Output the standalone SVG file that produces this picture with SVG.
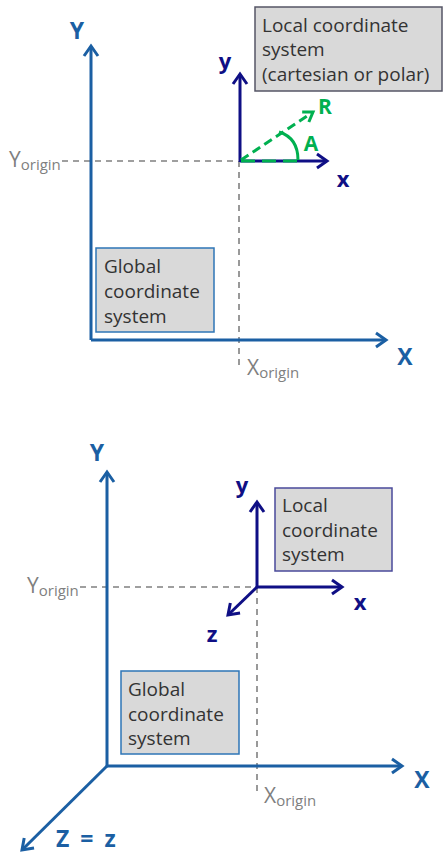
<svg xmlns="http://www.w3.org/2000/svg" width="443" height="854" viewBox="0 0 443 854">
<style>
.gax{stroke:#1b5fa3;stroke-width:3;fill:none}
.lax{stroke:#0f0f85;stroke-width:3;fill:none}
.grn{stroke:#00b050;stroke-width:3;fill:none}
.dash{stroke:#808080;stroke-width:1.6;stroke-dasharray:6 5;fill:none}
.box{fill:#d9d9d9;stroke-width:1.5}
.bt{font-family:"Open Sans","DejaVu Sans",sans-serif;font-size:19px;fill:#333333}
.gl{font-family:"Open Sans","Liberation Sans",sans-serif;font-weight:bold;font-size:23px;fill:#1b5fa3}
.ll{font-family:"Open Sans","Liberation Sans",sans-serif;font-weight:bold;font-size:22px;fill:#0f0f85}
.gr{font-family:"Open Sans","Liberation Sans",sans-serif;font-weight:bold;font-size:21px;fill:#00b050}
.ol{font-family:"Open Sans","DejaVu Sans",sans-serif;fill:#7f7f7f}
</style>
<defs>
<marker id="ab" markerUnits="userSpaceOnUse" markerWidth="20" markerHeight="20" orient="auto" overflow="visible"><path d="M-10,-7 L0,0 L-10,7" fill="none" stroke="#1b5fa3" stroke-width="3"/></marker>
<marker id="an" markerUnits="userSpaceOnUse" markerWidth="20" markerHeight="20" orient="auto" overflow="visible"><path d="M-10,-7 L0,0 L-10,7" fill="none" stroke="#0f0f85" stroke-width="3"/></marker>
<marker id="ag" markerUnits="userSpaceOnUse" markerWidth="20" markerHeight="20" orient="auto" overflow="visible"><path d="M-9,-6 L0,0 L-9,6" fill="none" stroke="#00b050" stroke-width="3"/></marker>
</defs>

<g id="connectors">
<line class="dash" x1="62" y1="161" x2="238" y2="161"/>
<line class="dash" x1="239" y1="161" x2="239" y2="368"/>
<line class="gax" x1="91" y1="340" x2="91" y2="46" marker-end="url(#ab)"/>
<line class="gax" x1="91" y1="340" x2="386" y2="340" marker-end="url(#ab)"/>
<line class="lax" x1="240" y1="162" x2="240" y2="74" marker-end="url(#an)"/>
<line class="lax" x1="240" y1="161" x2="327" y2="161" marker-end="url(#an)"/>
<line class="grn" x1="241" y1="161" x2="297" y2="161" stroke-dasharray="14 7"/>
<line class="grn" x1="241" y1="160" x2="313" y2="112" stroke-dasharray="9 5" marker-end="url(#ag)"/>
<path class="grn" d="M298,160 C298,146 292,136 279,132"/>
<line class="dash" x1="80" y1="587" x2="256" y2="587"/>
<line class="dash" x1="257" y1="587" x2="257" y2="794"/>
<line class="gax" x1="107" y1="766" x2="107" y2="472" marker-end="url(#ab)"/>
<line class="gax" x1="107" y1="766" x2="402" y2="766" marker-end="url(#ab)"/>
<line class="gax" x1="107" y1="766" x2="22" y2="850" marker-end="url(#ab)"/>
<line class="lax" x1="257" y1="588" x2="257" y2="502" marker-end="url(#an)"/>
<line class="lax" x1="257" y1="587" x2="342" y2="587" marker-end="url(#an)"/>
<line class="lax" x1="257" y1="587" x2="228" y2="615" marker-end="url(#an)"/>
</g>

<g id="top-global-box">
<rect class="box" x="96" y="248" width="118" height="84" stroke="#2e75b6"/>
<text class="bt" x="104" y="273">Global</text>
<text class="bt" x="104" y="298">coordinate</text>
<text class="bt" x="104" y="323">system</text>
</g>
<g id="top-local-box">
<rect class="box" x="255" y="7" width="187" height="84" stroke="#555566"/>
<text class="bt" x="262" y="32">Local coordinate</text>
<text class="bt" x="262" y="56">system</text>
<text class="bt" x="262" y="81">(cartesian or polar)</text>
</g>
<g id="top-labels">
<text class="gl" x="77" y="39" text-anchor="middle">Y</text>
<text class="gl" x="405" y="365" text-anchor="middle">X</text>
<text class="ll" x="225" y="69" text-anchor="middle">y</text>
<text class="ll" x="343" y="187" text-anchor="middle">x</text>
<text class="gr" x="325" y="114" text-anchor="middle">R</text>
<text class="gr" x="311" y="151" text-anchor="middle">A</text>
<text class="ol" x="9" y="167"><tspan font-size="21">Y</tspan><tspan font-size="15" dy="3">origin</tspan></text>
<text class="ol" x="247" y="375"><tspan font-size="21">X</tspan><tspan font-size="15" dy="3">origin</tspan></text>
</g>

<g id="bottom-local-box">
<rect class="box" x="275" y="488" width="117" height="83" stroke="#4a4a9a"/>
<text class="bt" x="282" y="512">Local</text>
<text class="bt" x="282" y="537">coordinate</text>
<text class="bt" x="282" y="561">system</text>
</g>
<g id="bottom-global-box">
<rect class="box" x="121" y="671" width="118" height="83" stroke="#2e75b6"/>
<text class="bt" x="128" y="696">Global</text>
<text class="bt" x="128" y="721">coordinate</text>
<text class="bt" x="128" y="745">system</text>
</g>
<g id="bottom-labels">
<text class="gl" x="97" y="461" text-anchor="middle">Y</text>
<text class="gl" x="422" y="788" text-anchor="middle">X</text>
<text class="gl" x="56" y="847" word-spacing="5">Z = z</text>
<text class="ll" x="242" y="493" text-anchor="middle">y</text>
<text class="ll" x="360" y="610" text-anchor="middle">x</text>
<text class="ll" x="212" y="642" text-anchor="middle">z</text>
<text class="ol" x="27" y="593"><tspan font-size="21">Y</tspan><tspan font-size="15" dy="3">origin</tspan></text>
<text class="ol" x="264" y="803"><tspan font-size="21">X</tspan><tspan font-size="15" dy="3">origin</tspan></text>
</g>
</svg>
